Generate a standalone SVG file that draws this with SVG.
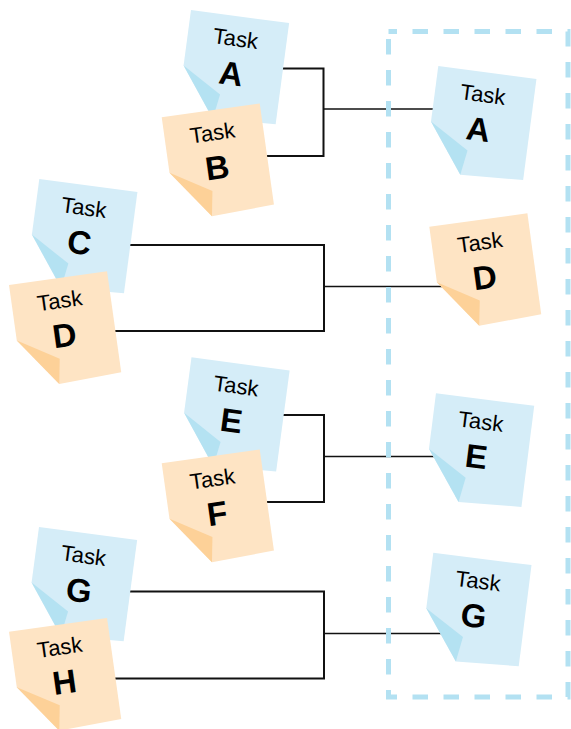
<svg xmlns="http://www.w3.org/2000/svg" xmlns:xlink="http://www.w3.org/1999/xlink" width="571" height="729" viewBox="0 0 571 729">
  <style>
    .blue .body { fill: #d5edf8; }
    .blue .fold { fill: #b4e2f2; }
    .orange .body { fill: #fee4c4; }
    .orange .fold { fill: #fdd198; }
    .task { font-family: "Liberation Sans", Arial, sans-serif; font-size: 22px; fill: #000; text-anchor: middle; }
    .letter { font-family: "Liberation Sans", Arial, sans-serif; font-size: 33px; font-weight: bold; fill: #000; text-anchor: middle; }
    .bracket { fill: none; stroke: #111; stroke-width: 2; }
    .out { fill: none; stroke: #111; stroke-width: 1.5; }
    .frame { fill: none; stroke: #b3e1f2; stroke-width: 5; stroke-dasharray: 15.5 15.5; stroke-dashoffset: 7; }
  </style>
  <defs>
    <polygon id="body" points="0,0 99,0 99,102 36,105 0,56"/>
    <polygon id="fold" points="0,56 40,80 36,105"/>
  </defs>

  <g id="connectors">
    <path class="bracket" d="M280,68.5 H323.5 V156 H262"/>
    <path class="out" d="M323.5,109 H436"/>
    <path class="bracket" d="M126,245 H324 V331 H111"/>
    <path class="out" d="M324,286.5 H442"/>
    <path class="bracket" d="M280,415 H324 V502 H262"/>
    <path class="out" d="M324,456.5 H436"/>
    <path class="bracket" d="M126,591.5 H324 V678.5 H111"/>
    <path class="out" d="M324,633.5 H442"/>
  </g>

  <rect id="frame" class="frame" x="388.5" y="31.5" width="179.5" height="665.5"/>

  <g id="leftA" class="blue" transform="translate(191,10) rotate(7.6)">
    <use xlink:href="#body" class="body"/><use xlink:href="#fold" class="fold"/>
    <text class="task" x="48" y="30">Task</text><text class="letter" x="48" y="69">A</text>
  </g>
  <g id="leftB" class="orange" transform="translate(161.7,117.3) rotate(-8)">
    <use xlink:href="#body" class="body"/><use xlink:href="#fold" class="fold"/>
    <text class="task" x="48" y="30">Task</text><text class="letter" x="48" y="69">B</text>
  </g>
  <g id="leftC" class="blue" transform="translate(39.3,179) rotate(7.6)">
    <use xlink:href="#body" class="body"/><use xlink:href="#fold" class="fold"/>
    <text class="task" x="48" y="30">Task</text><text class="letter" x="48" y="69">C</text>
  </g>
  <g id="leftD" class="orange" transform="translate(9,285) rotate(-8)">
    <use xlink:href="#body" class="body"/><use xlink:href="#fold" class="fold"/>
    <text class="task" x="48" y="30">Task</text><text class="letter" x="48" y="69">D</text>
  </g>
  <g id="leftE" class="blue" transform="translate(191.5,357.3) rotate(7.6)">
    <use xlink:href="#body" class="body"/><use xlink:href="#fold" class="fold"/>
    <text class="task" x="48" y="30">Task</text><text class="letter" x="48" y="69">E</text>
  </g>
  <g id="leftF" class="orange" transform="translate(161.7,463.3) rotate(-8)">
    <use xlink:href="#body" class="body"/><use xlink:href="#fold" class="fold"/>
    <text class="task" x="48" y="30">Task</text><text class="letter" x="48" y="69">F</text>
  </g>
  <g id="leftG" class="blue" transform="translate(39,527) rotate(7.6)">
    <use xlink:href="#body" class="body"/><use xlink:href="#fold" class="fold"/>
    <text class="task" x="48" y="30">Task</text><text class="letter" x="48" y="69">G</text>
  </g>
  <g id="leftH" class="orange" transform="translate(9,631.7) rotate(-8)">
    <use xlink:href="#body" class="body"/><use xlink:href="#fold" class="fold"/>
    <text class="task" x="48" y="30">Task</text><text class="letter" x="48" y="69">H</text>
  </g>

  <g id="rightA" class="blue" transform="translate(438.3,66) rotate(7.5)">
    <use xlink:href="#body" class="body"/><use xlink:href="#fold" class="fold"/>
    <text class="task" x="48" y="30">Task</text><text class="letter" x="48" y="69">A</text>
  </g>
  <g id="rightD" class="orange" transform="translate(429.3,226.7) rotate(-7.8)">
    <use xlink:href="#body" class="body"/><use xlink:href="#fold" class="fold"/>
    <text class="task" x="48" y="30">Task</text><text class="letter" x="48" y="69">D</text>
  </g>
  <g id="rightE" class="blue" transform="translate(436,393.3) rotate(7.2)">
    <use xlink:href="#body" class="body"/><use xlink:href="#fold" class="fold"/>
    <text class="task" x="48" y="30">Task</text><text class="letter" x="48" y="69">E</text>
  </g>
  <g id="rightG" class="blue" transform="translate(433.3,552.7) rotate(7.2)">
    <use xlink:href="#body" class="body"/><use xlink:href="#fold" class="fold"/>
    <text class="task" x="48" y="30">Task</text><text class="letter" x="48" y="69">G</text>
  </g>
</svg>
